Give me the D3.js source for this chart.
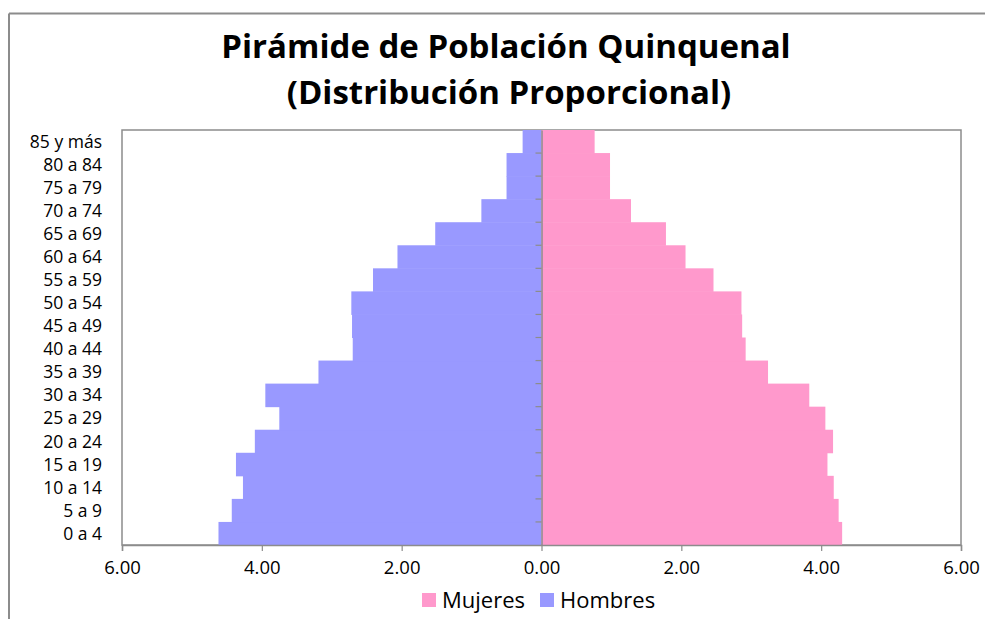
<!DOCTYPE html>
<html>
<head>
<meta charset="utf-8">
<script src="https://cdn.jsdelivr.net/npm/d3@7"></script>
<style>
  body { margin: 0; background: #fff; overflow: hidden; }
  text { font-family: "Open Sans", Lato, sans-serif; fill: #000; }
</style>
</head>
<body>
<div id="chart"></div>
<script>
// 데이터 (아래에서 위로: 0 a 4 → 85 y más)
const grupos = ["0 a 4", "5 a 9", "10 a 14", "15 a 19", "20 a 24", "25 a 29", "30 a 34",
  "35 a 39", "40 a 44", "45 a 49", "50 a 54", "55 a 59", "60 a 64", "65 a 69",
  "70 a 74", "75 a 79", "80 a 84", "85 y más"];
const hombres = [4.62, 4.43, 4.27, 4.37, 4.10, 3.75, 3.95, 3.19, 2.70, 2.71, 2.72,
  2.41, 2.06, 1.52, 0.86, 0.50, 0.50, 0.27];
const mujeres = [4.30, 4.25, 4.18, 4.09, 4.17, 4.06, 3.83, 3.24, 2.92, 2.87, 2.86,
  2.46, 2.06, 1.78, 1.28, 0.98, 0.98, 0.76];
const xTicks = [-6, -4, -2, 0, 2, 4, 6];
const titulo = ["Pirámide de Población Quinquenal", "(Distribución Proporcional)"];
const leyenda = [{ name: "Mujeres", color: "#ff99cc" }, { name: "Hombres", color: "#9999ff" }];

const width = 985;
const height = 619;
const plot = { left: 122, right: 961, top: 130, bottom: 545 };

const svg = d3.select("#chart")
  .append("svg")
  .attr("width", width)
  .attr("height", height);

// 바깥 테두리 (왼쪽, 위쪽만 보임)
svg.append("line")
  .attr("x1", 9).attr("y1", 13.5).attr("x2", width).attr("y2", 13.5)
  .attr("stroke", "#8c8c8c").attr("stroke-width", 2);
svg.append("line")
  .attr("x1", 9).attr("y1", 13.5).attr("x2", 9).attr("y2", height)
  .attr("stroke", "#8c8c8c").attr("stroke-width", 2);

// 제목 (두 줄, 각각 별도 text)
svg.append("g").selectAll("text")
  .data(titulo)
  .join("text")
  .attr("x", (d, i) => i === 0 ? 506 : 509)
  .attr("y", (d, i) => i === 0 ? 58 : 104)
  .attr("text-anchor", "middle")
  .attr("font-weight", "bold")
  .attr("font-size", "33px")
  .text(d => d);

// 스케일
const x = d3.scaleLinear().domain([-6, 6]).range([plot.left, plot.right]);
const y = d3.scaleBand().domain(grupos).range([plot.bottom, plot.top]).padding(0);

// 플롯 영역 테두리
svg.append("rect")
  .attr("x", plot.left)
  .attr("y", plot.top)
  .attr("width", plot.right - plot.left)
  .attr("height", plot.bottom - plot.top)
  .attr("fill", "#fff")
  .attr("stroke", "#8c8c8c")
  .attr("stroke-width", 1.5);

// 막대
svg.append("g").selectAll("rect")
  .data(grupos)
  .join("rect")
  .attr("x", (d, i) => x(-hombres[i]))
  .attr("y", d => y(d))
  .attr("width", (d, i) => x(0) - x(-hombres[i]))
  .attr("height", y.bandwidth() + 0.5)
  .attr("fill", "#9999ff");

svg.append("g").selectAll("rect")
  .data(grupos)
  .join("rect")
  .attr("x", x(0))
  .attr("y", d => y(d))
  .attr("width", (d, i) => x(mujeres[i]) - x(0))
  .attr("height", y.bandwidth() + 0.5)
  .attr("fill", "#ff99cc");

// 중앙 세로축 (카테고리 경계 눈금)
const yAxis = svg.append("g")
  .attr("transform", `translate(${x(0)},0)`)
  .call(d3.axisLeft(y).tickSize(0).tickFormat(""));
yAxis.select(".domain").attr("stroke", "#8c8c8c").attr("stroke-width", 1.5);
yAxis.selectAll(".cat")
  .data(grupos.slice(1))
  .join("line")
  .attr("class", "cat")
  .attr("x1", -6).attr("x2", 0)
  .attr("y1", d => y(d) + y.bandwidth())
  .attr("y2", d => y(d) + y.bandwidth())
  .attr("stroke", "#8c8c8c")
  .attr("stroke-width", 1.2);

// 카테고리 라벨
svg.append("g").selectAll("text")
  .data(grupos)
  .join("text")
  .attr("x", 102)
  .attr("y", d => y(d) + y.bandwidth() / 2)
  .attr("dy", "0.36em")
  .attr("text-anchor", "end")
  .attr("font-size", "17.5px")
  .attr("fill", "#111")
  .text(d => d);

// 아래 x축
const xAxis = svg.append("g")
  .attr("transform", `translate(0,${plot.bottom})`)
  .call(d3.axisBottom(x).tickValues(xTicks).tickSize(6).tickPadding(10)
    .tickFormat(d => Math.abs(d).toFixed(2)));
xAxis.select(".domain").attr("stroke", "#8c8c8c").attr("stroke-width", 1.5);
xAxis.selectAll(".tick line").attr("stroke", "#8c8c8c").attr("stroke-width", 1.2);
xAxis.selectAll(".tick text")
  .attr("font-family", "'Open Sans', Lato, sans-serif")
  .attr("font-size", "18.5px")
  .attr("fill", "#111");

// 범례
const lg = svg.append("g").attr("transform", "translate(422,593)");
const item = lg.selectAll("g")
  .data(leyenda)
  .join("g")
  .attr("transform", (d, i) => `translate(${i * 118},0)`);
item.append("rect")
  .attr("width", 14)
  .attr("height", 14)
  .attr("fill", d => d.color);
item.append("text")
  .attr("x", 20)
  .attr("y", 7)
  .attr("dy", "0.36em")
  .attr("font-size", "22px")
  .text(d => d.name);
</script>
</body>
</html>
